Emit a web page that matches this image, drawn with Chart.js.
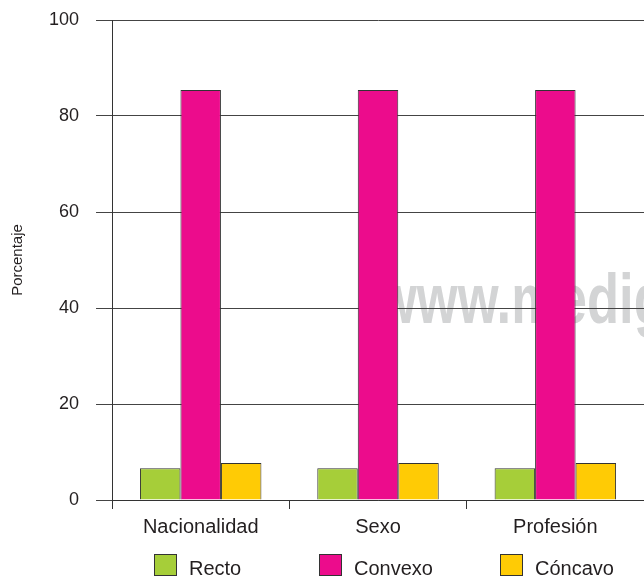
<!DOCTYPE html>
<html>
<head>
<meta charset="utf-8">
<script src="https://cdn.jsdelivr.net/npm/chart.js@4"></script>
<style>
  body { margin: 0; background: #fff; }
  #wrap { position: relative; width: 644px; height: 579px; overflow: hidden; }
  #legend { position: absolute; top: 554px; left: 0; width: 644px; height: 25px;
    font-family: "Liberation Sans", Arial, sans-serif; font-size: 20px; color: #231f20; }
  .item { position: absolute; top: 0; display: flex; align-items: flex-start; }
  .box { width: 21px; height: 20px; border: 1px solid #333; margin-right: 12px; }
  .txt { line-height: 20px; padding-top: 4px; }
</style>
</head>
<body>
<div id="wrap">
  <canvas id="chart" width="644" height="579"></canvas>
  <div id="legend"></div>
</div>
<script>
const categories = ['Nacionalidad', 'Sexo', 'Profesión'];
const seriesNames = ['Recto', 'Convexo', 'Cóncavo'];
const recto = [6.6, 6.6, 6.6];
const convexo = [85.4, 85.4, 85.4];
const concavo = [7.7, 7.7, 7.7];
const yTicks = [0, 20, 40, 60, 80, 100];

const colors = ['#a6ce39', '#ec0c8c', '#ffcb05'];
const legendLeft = [154, 319, 500];

// faint watermark behind grid and bars
const watermark = {
  id: 'watermark',
  beforeDraw(chart) {
    const ctx = chart.ctx;
    ctx.save();
    ctx.translate(376, 323);
    ctx.scale(0.75, 1);
    ctx.font = 'bold 70px "Liberation Sans", Arial, sans-serif';
    ctx.fillStyle = '#d3d4d5';
    ctx.textBaseline = 'alphabetic';
    ctx.fillText('www.medigraphic.org.mx', 0, 0);
    ctx.restore();
  }
};

const ctx = document.getElementById('chart').getContext('2d');
const chart = new Chart(ctx, {
  type: 'bar',
  data: {
    labels: categories,
    datasets: [
      { label: seriesNames[0], data: recto, backgroundColor: colors[0] },
      { label: seriesNames[1], data: convexo, backgroundColor: colors[1] },
      { label: seriesNames[2], data: concavo, backgroundColor: colors[2] }
    ].map(d => Object.assign(d, { borderColor: '#333', borderWidth: 1, barPercentage: 1, categoryPercentage: 0.685 }))
  },
  options: {
    responsive: false,
    animation: false,
    layout: { padding: { top: 20, right: 0, left: 9, bottom: 34 } },
    plugins: { legend: { display: false }, tooltip: { enabled: false } },
    scales: {
      x: {
        grid: { offset: true, drawOnChartArea: false, tickLength: 9, color: '#333' },
        border: { color: '#333', width: 1 },
        ticks: { font: { family: 'Liberation Sans', size: 20 }, color: '#231f20', padding: 6 }
      },
      y: {
        min: 0,
        max: 100,
        afterBuildTicks: axis => { axis.ticks = yTicks.map(v => ({ value: v })); },
        afterFit: axis => { axis.paddingTop = 0; axis.paddingBottom = 0; },
        grid: { color: '#444', tickLength: 16 },
        border: { color: '#333', width: 1 },
        ticks: { font: { family: 'Liberation Sans', size: 18 }, color: '#231f20', padding: 17 },
        title: { display: true, text: 'Porcentaje', font: { family: 'Liberation Sans', size: 15 }, color: '#231f20', padding: { top: 0, bottom: 5 } }
      }
    }
  },
  plugins: [watermark]
});

const legend = document.getElementById('legend');
seriesNames.forEach((name, i) => {
  const item = document.createElement('div');
  item.className = 'item';
  item.style.left = legendLeft[i] + 'px';
  item.innerHTML = '<span class="box" style="background:' + colors[i] + '"></span><span class="txt">' + name + '</span>';
  legend.appendChild(item);
});
</script>
</body>
</html>
